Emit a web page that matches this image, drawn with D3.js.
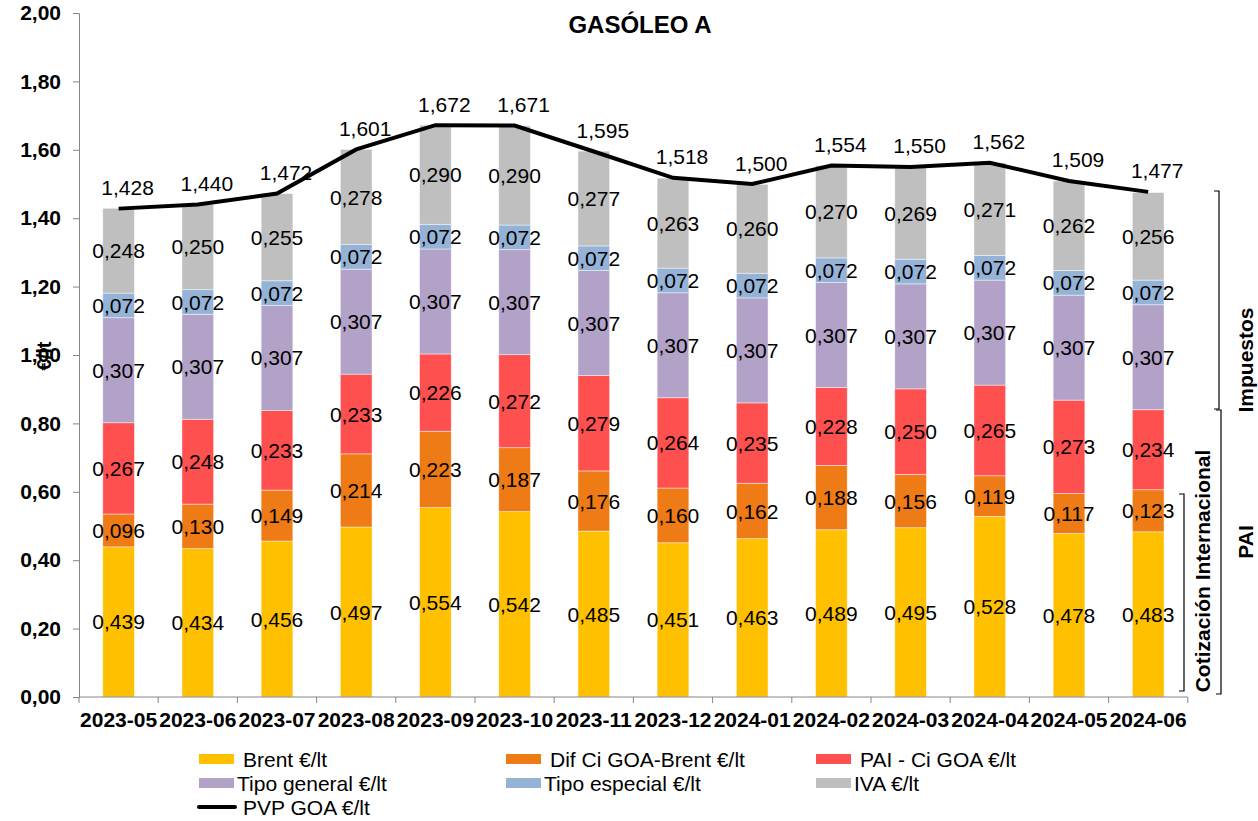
<!DOCTYPE html>
<html>
<head>
<meta charset="utf-8">
<script src="https://cdn.jsdelivr.net/npm/d3@7"></script>
<style>
  body { margin: 0; background: #fff; }
  svg text { font-family: "Liberation Sans", Arial, sans-serif; }
</style>
</head>
<body>
<div id="chart"></div>
<script>
// Datos
var months = ['2023-05','2023-06','2023-07','2023-08','2023-09','2023-10','2023-11',
              '2023-12','2024-01','2024-02','2024-03','2024-04','2024-05','2024-06'];

var brent    = [0.439,0.434,0.456,0.497,0.554,0.542,0.485,0.451,0.463,0.489,0.495,0.528,0.478,0.483];
var difCi    = [0.096,0.130,0.149,0.214,0.223,0.187,0.176,0.160,0.162,0.188,0.156,0.119,0.117,0.123];
var paiCi    = [0.267,0.248,0.233,0.233,0.226,0.272,0.279,0.264,0.235,0.228,0.250,0.265,0.273,0.234];
var tipoGen  = [0.307,0.307,0.307,0.307,0.307,0.307,0.307,0.307,0.307,0.307,0.307,0.307,0.307,0.307];
var tipoEsp  = [0.072,0.072,0.072,0.072,0.072,0.072,0.072,0.072,0.072,0.072,0.072,0.072,0.072,0.072];
var iva      = [0.248,0.250,0.255,0.278,0.290,0.290,0.277,0.263,0.260,0.270,0.269,0.271,0.262,0.256];
var pvp      = [1.428,1.440,1.472,1.601,1.672,1.671,1.595,1.518,1.500,1.554,1.550,1.562,1.509,1.477];

var seriesNames = ['Brent €/lt','Dif Ci GOA-Brent €/lt','PAI - Ci GOA €/lt',
                   'Tipo general €/lt','Tipo especial €/lt','IVA €/lt'];
var lineName = 'PVP GOA €/lt';
var yTicks = [0,0.2,0.4,0.6,0.8,1.0,1.2,1.4,1.6,1.8,2.0];

var colors = ['#FFC000','#EE7B16','#FF5050','#B3A2C7','#95B3D7','#BFBFBF'];

// Geometria
var width = 1258, height = 821;
var margin = {top: 13, right: 70, bottom: 124, left: 79};

var svg = d3.select('#chart').append('svg')
    .attr('width', width)
    .attr('height', height);

var x = d3.scaleBand()
    .domain(months)
    .range([margin.left, margin.left + 14 * 79.2])
    .paddingInner(0.6)
    .paddingOuter(0.3);

var y = d3.scaleLinear()
    .domain([0, 2])
    .range([697, 13]);

var comma = function(f) { return function(v) { return d3.format(f)(v).replace('.', ','); }; };

// Tabla para el apilado
var table = months.map(function(m, i) {
  return {month: m, s0: brent[i], s1: difCi[i], s2: paiCi[i], s3: tipoGen[i], s4: tipoEsp[i], s5: iva[i]};
});
var keys = ['s0','s1','s2','s3','s4','s5'];
var stacked = d3.stack().keys(keys)(table);

// Barras
var layers = svg.selectAll('g.layer')
  .data(stacked)
  .enter().append('g')
    .attr('class', 'layer')
    .attr('fill', function(d, i) { return colors[i]; });

layers.selectAll('rect')
  .data(function(d) { return d; })
  .enter().append('rect')
    .attr('x', function(d) { return x(d.data.month); })
    .attr('width', x.bandwidth())
    .attr('y', function(d) { return y(d[1]); })
    .attr('height', function(d) { return y(d[0]) - y(d[1]); })
    .attr('stroke', 'rgba(255,255,255,0.55)')
    .attr('stroke-width', 0.8);

// Etiquetas de segmentos
layers.selectAll('text')
  .data(function(d) { return d; })
  .enter().append('text')
    .attr('x', function(d) { return x(d.data.month) + x.bandwidth() / 2; })
    .attr('y', function(d) { return y((d[0] + d[1]) / 2); })
    .attr('dy', '0.36em')
    .attr('text-anchor', 'middle')
    .attr('fill', '#000')
    .style('font-size', '21px')
    .text(function(d) { return comma('.3f')(d[1] - d[0]); });

// Ejes
var yAxis = svg.append('g')
    .attr('transform', 'translate(' + margin.left + ',0)')
    .call(d3.axisLeft(y).tickValues(yTicks).tickSize(6).tickPadding(12).tickFormat(comma('.2f')));

yAxis.select('.domain').attr('stroke', '#868686');
yAxis.selectAll('.tick line').attr('stroke', '#868686');
yAxis.selectAll('.tick text')
    .style('font-size', '21px')
    .style('font-weight', 'bold')
    .attr('fill', '#000');

var xAxis = svg.append('g')
    .attr('transform', 'translate(0,' + y(0) + ')');

xAxis.append('line')
    .attr('x1', x.range()[0]).attr('x2', x.range()[1])
    .attr('y1', 0).attr('y2', 0)
    .attr('stroke', '#868686');

// marcas entre categorias
xAxis.selectAll('line.tk')
  .data(d3.range(months.length + 1))
  .enter().append('line')
    .attr('class', 'tk')
    .attr('x1', function(i) { return x.range()[0] + i * x.step(); })
    .attr('x2', function(i) { return x.range()[0] + i * x.step(); })
    .attr('y1', 0).attr('y2', 6)
    .attr('stroke', '#868686');

xAxis.selectAll('text')
  .data(months)
  .enter().append('text')
    .attr('x', function(d) { return x(d) + x.bandwidth() / 2; })
    .attr('y', 30)
    .attr('text-anchor', 'middle')
    .style('font-size', '21px')
    .style('font-weight', 'bold')
    .text(function(d) { return d; });

// Linea PVP
var line = d3.line()
    .x(function(d, i) { return x(months[i]) + x.bandwidth() / 2; })
    .y(function(d) { return y(d); });

svg.append('path')
    .datum(pvp)
    .attr('d', line)
    .attr('fill', 'none')
    .attr('stroke', '#000')
    .attr('stroke-width', 4);

svg.selectAll('text.pvp')
  .data(pvp)
  .enter().append('text')
    .attr('class', 'pvp')
    .attr('x', function(d, i) { return x(months[i]) + x.bandwidth() / 2 + 9; })
    .attr('y', function(d) { return y(d) - 21; })
    .attr('dy', '0.36em')
    .attr('text-anchor', 'middle')
    .style('font-size', '21px')
    .text(function(d) { return comma('.3f')(d); });

// Titulo
svg.append('text')
    .attr('x', 640)
    .attr('y', 33)
    .attr('text-anchor', 'middle')
    .style('font-size', '24px')
    .style('font-weight', 'bold')
    .text('GASÓLEO A');

// Titulo eje Y
svg.append('text')
    .attr('transform', 'translate(51,356) rotate(-90)')
    .attr('text-anchor', 'middle')
    .style('font-size', '20px')
    .style('font-weight', 'bold')
    .text('€/lt');

// Llaves laterales
function bracket(xp, y1, y2) {
  svg.append('path')
      .attr('d', 'M' + (xp - 5) + ',' + y1 + 'H' + xp + 'V' + y2 + 'H' + (xp - 5))
      .attr('fill', 'none')
      .attr('stroke', '#000')
      .attr('stroke-width', 1.2);
}
bracket(1219, 191, 409);
bracket(1221, 410, 694);
bracket(1184, 494, 691);

function sideLabel(xp, yp, txt) {
  svg.append('text')
      .attr('transform', 'translate(' + xp + ',' + yp + ') rotate(-90)')
      .attr('text-anchor', 'middle')
      .attr('dy', '0.36em')
      .style('font-size', '21px')
      .style('font-weight', 'bold')
      .text(txt);
}
sideLabel(1245, 360, 'Impuestos');
sideLabel(1245, 542, 'PAI');
sideLabel(1202, 571, 'Cotización Internacional');

// Leyenda
var legX = [199, 506, 816];
var legY = [759, 783, 807];
var legend = svg.append('g');

seriesNames.forEach(function(name, i) {
  var col = i % 3, row = Math.floor(i / 3);
  legend.append('rect')
      .attr('x', legX[col])
      .attr('y', legY[row] - 5)
      .attr('width', 35)
      .attr('height', 10)
      .attr('fill', colors[i]);
  legend.append('text')
      .attr('x', legX[col] + (row === 0 ? 44 : 38))
      .attr('y', legY[row])
      .attr('dy', '0.36em')
      .style('font-size', '21px')
      .text(name);
});

legend.append('line')
    .attr('x1', legX[0]).attr('x2', legX[0] + 36)
    .attr('y1', legY[2]).attr('y2', legY[2])
    .attr('stroke', '#000')
    .attr('stroke-width', 4)
    .attr('stroke-linecap', 'round');
legend.append('text')
    .attr('x', legX[0] + 44)
    .attr('y', legY[2])
    .attr('dy', '0.36em')
    .style('font-size', '21px')
    .text(lineName);
</script>
</body>
</html>
